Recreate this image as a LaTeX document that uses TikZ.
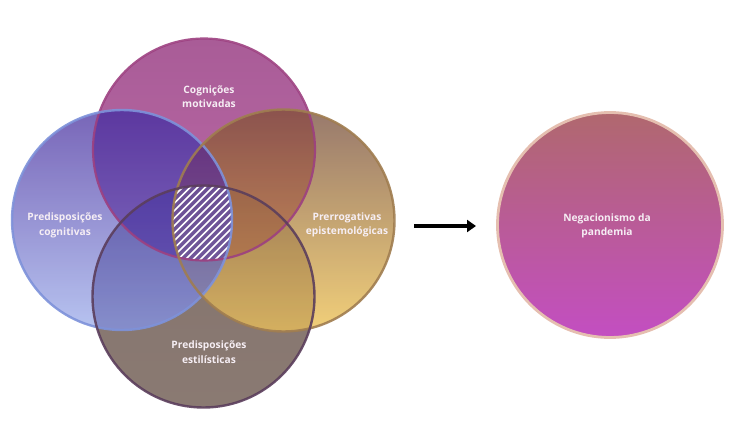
\documentclass[tikz,border=0pt]{standalone}
\usepackage{fontspec}
\setmainfont{Open Sans}
\usetikzlibrary{arrows.meta}
\definecolor{topA}{HTML}{A24E8E}
\definecolor{topB}{HTML}{B35C9F}
\definecolor{topE}{HTML}{9C3F80}
\definecolor{leftA}{HTML}{6550AE}
\definecolor{leftB}{HTML}{ADBBEE}
\definecolor{leftE}{HTML}{7E92DA}
\definecolor{rightA}{HTML}{8C6A5C}
\definecolor{rightB}{HTML}{F0CA6A}
\definecolor{rightE}{HTML}{A07D50}
\definecolor{botA}{HTML}{84736E}
\definecolor{botB}{HTML}{8A7A72}
\definecolor{botE}{HTML}{5B3E5C}
\definecolor{bigA}{HTML}{B0686E}
\definecolor{bigB}{HTML}{C34EC2}
\definecolor{bigE}{HTML}{E5BFB0}
\definecolor{txt}{HTML}{F6EEF4}
\definecolor{tlDark}{HTML}{3C0A8C}
\definecolor{hatchBg}{HTML}{8A80D0}
\tikzset{
  lbl/.style={text=txt, font=\bfseries\fontsize{10.2}{14.5}\selectfont, align=center, inner sep=0pt},
  ring/.style={circle, minimum size=222pt, inner sep=0pt}
}
\begin{document}
\begin{tikzpicture}[x=1pt,y=-1pt]
\useasboundingbox (0,0) rectangle (750,421);
% centres
\coordinate (cT) at (204,149.5);
\coordinate (cL) at (122,220);
\coordinate (cR) at (283.5,220.5);
\coordinate (cB) at (203.5,296.5);
% fills
\shade[top color=botA, bottom color=botB] (cB) circle (111);
\shade[top color=topA, bottom color=topB, fill opacity=0.92] (cT) circle (110.5);
\shade[top color=rightA, bottom color=rightB, fill opacity=0.9] (cR) circle (111);
\shade[top color=leftA, bottom color=leftB, fill opacity=0.88] (cL) circle (110);
% darken top-left overlap
\begin{scope}
  \clip (cT) circle (110.5);
  \fill[fill=tlDark, fill opacity=0.35] (cL) circle (110);
\end{scope}
% darken top-right overlap
\begin{scope}
  \clip (cT) circle (110.5);
  \fill[fill=black!50!red, fill opacity=0.2] (cR) circle (111);
\end{scope}
% darken bottom-left / bottom-right overlaps
\begin{scope}
  \clip (cB) circle (111);
  \fill[fill=black!50!blue, fill opacity=0.2] (cL) circle (110);
  \fill[fill=black!40!brown, fill opacity=0.15] (cR) circle (111);
\end{scope}
% hatched centre
\begin{scope}
  \clip (cT) circle (110.5);
  \clip (cL) circle (110);
  \clip (cR) circle (111);
  \clip (cB) circle (111);
  \fill[fill=hatchBg, fill opacity=0.35] (100,170) rectangle (300,280);
  \foreach \i in {0,...,30} {
    \draw[white, line width=1.6pt] (90+\i*7.5,280) -- ++(110,-110);
  }
\end{scope}
% borders
\node[ring, draw=topE, line width=2.2pt, draw opacity=0.9] (T) at (cT) {};
\node[ring, draw=leftE, line width=2.4pt, draw opacity=0.9, minimum size=220pt] (L) at (cL) {};
\node[ring, draw=rightE, line width=2.4pt, draw opacity=0.9] (R) at (cR) {};
\node[ring, draw=botE, line width=2.4pt, draw opacity=0.9] (B) at (cB) {};
% big circle
\shade[top color=bigA, bottom color=bigB] (610,225) circle (112.5);
\node[ring, draw=bigE, line width=2.8pt, minimum size=225pt] (N) at (610,225) {};
% labels
\node[lbl] (tT) at (209,96.5) {Cognições\\motivadas};
\node[lbl] (tL) at (65,225.5) {Predisposições\\cognitivas};
\node[lbl] (tR) at (347,225) {Prerrogativas\\epistemológicas};
\node[lbl] (tB) at (209,352) {Predisposições\\estilísticas};
\node[lbl] (tN) at (607,226) {Negacionismo da\\pandemia};
% arrow
\coordinate (a1) at (414,226);
\coordinate (a2) at (476,226);
\draw[line width=3.2pt, -{Triangle[length=9pt,width=12pt]}] (a1) -- (a2);
\end{tikzpicture}
\end{document}
